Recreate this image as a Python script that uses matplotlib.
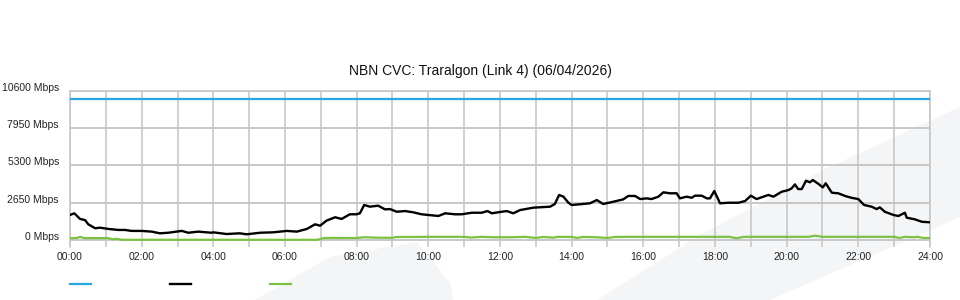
import numpy as np
import matplotlib
matplotlib.use('Agg')
import matplotlib.pyplot as plt
from matplotlib.patches import Polygon

plt.rcParams['font.family'] = ['Liberation Sans', 'DejaVu Sans']

title = 'NBN CVC: Traralgon (Link 4) (06/04/2026)'

# capacity (blue), hours of day
cap_hours = [0, 24]
cap_mbps = [10000, 10000]

# traffic in (black) - hours, Mbps
in_hours = [0.00, 0.12, 0.28, 0.42, 0.51, 0.70, 0.84, 1.07, 1.35, 1.53, 1.72, 2.00,
            2.28, 2.51, 2.74, 3.12, 3.30, 3.58, 3.95, 4.00, 4.37, 4.74, 4.93, 5.30,
            5.67, 6.05, 6.33, 6.61, 6.84, 6.98, 7.16, 7.40, 7.58, 7.81, 8.00, 8.09,
            8.21, 8.37, 8.60, 8.79, 8.93, 9.12, 9.35, 9.58, 9.81, 10.28, 10.47, 10.74,
            10.93, 11.21, 11.49, 11.65, 11.77, 12.05, 12.19, 12.37, 12.56, 12.93, 13.40, 13.53,
            13.65, 13.77, 13.91, 14.00, 14.23, 14.51, 14.70, 14.88, 15.16, 15.44, 15.58, 15.77,
            15.91, 16.09, 16.23, 16.42, 16.56, 16.74, 16.93, 17.02, 17.21, 17.35, 17.44, 17.63,
            17.77, 17.86, 17.98, 18.14, 18.37, 18.65, 18.84, 19.00, 19.16, 19.35, 19.49, 19.63,
            19.86, 20.05, 20.14, 20.23, 20.32, 20.42, 20.54, 20.65, 20.73, 20.89, 21.01, 21.09,
            21.26, 21.44, 21.63, 21.81, 22.00, 22.16, 22.37, 22.51, 22.60, 22.74, 22.98, 23.12,
            23.30, 23.35, 23.58, 23.77, 24.00]
in_mbps = [1780, 1900, 1500, 1420, 1120, 840, 880, 790, 720, 720, 650, 650,
           600, 480, 520, 650, 520, 600, 520, 550, 430, 480, 410, 520,
           550, 650, 600, 790, 1120, 1020, 1380, 1620, 1500, 1830, 1830, 1900,
           2490, 2370, 2440, 2180, 2200, 2010, 2060, 1970, 1830, 1710, 1900, 1830,
           1830, 1940, 1940, 2060, 1900, 2010, 2060, 1900, 2130, 2300, 2370, 2560,
           3200, 3080, 2650, 2490, 2540, 2610, 2840, 2560, 2720, 2890, 3130, 3130,
           2910, 2960, 2910, 3080, 3390, 3320, 3320, 2960, 3080, 3000, 3150, 3150,
           2960, 2960, 3480, 2610, 2650, 2650, 2770, 3150, 2910, 3080, 3200, 3080,
           3430, 3550, 3670, 3950, 3620, 3620, 4210, 4100, 4260, 3980, 3740, 4030,
           3360, 3320, 3130, 3000, 2910, 2490, 2370, 2200, 2320, 2010, 1780, 1710,
           1940, 1590, 1470, 1300, 1260]

# traffic out (green) - hours, Mbps
out_hours = [0.0, 0.2, 0.28, 0.4, 1.05, 1.2, 1.3, 1.45, 6.9, 7.1, 8.0, 8.2,
             8.6, 9.0, 9.1, 9.6, 10.0, 11.0, 11.2, 11.5, 11.8, 12.3, 12.7, 13.0,
             13.2, 13.5, 13.6, 14.0, 14.15, 14.3, 14.7, 15.0, 15.2, 15.6, 18.4, 18.6,
             18.8, 20.6, 20.8, 21.0, 23.0, 23.15, 23.3, 23.55, 23.65, 23.8, 24.0]
out_mbps = [130, 150, 230, 140, 140, 60, 90, 20, 20, 150, 150, 200,
            170, 160, 220, 220, 230, 230, 180, 230, 200, 200, 230, 150,
            220, 170, 230, 220, 150, 220, 200, 150, 220, 230, 230, 130,
            230, 230, 310, 230, 230, 150, 230, 200, 230, 160, 140]

y_ticks = [0, 2650, 5300, 7950, 10600]
x_ticks = list(range(0, 25, 2))

fig = plt.figure(figsize=(9.6, 3.0), dpi=100)

# faint background watermark shapes (drawn behind the axes)
bg = '#f4f5f7'
shapes = [
    [(255, 300), (330, 257), (417, 242), (450, 283), (453, 300)],
    [(597, 300), (700, 235), (823, 170), (960, 107), (960, 217), (770, 300)],
]
for pts in shapes:
    fig.patches.append(Polygon([(x / 960, 1 - y / 300) for x, y in pts],
                               closed=True, transform=fig.transFigure,
                               facecolor=bg, edgecolor='none', zorder=-10))

ax = fig.add_axes([70 / 960, 53.3 / 300, 860 / 960, (246.7 - 90.7) / 300])
ax.set_zorder(5)
ax.patch.set_alpha(0)

l1, = ax.plot(cap_hours, cap_mbps, color='#27a6e0', lw=1.6, zorder=3)
l2, = ax.plot(in_hours, in_mbps, color='#000000', lw=1.7, zorder=4)
l3, = ax.plot(out_hours, out_mbps, color='#7cc142', lw=1.6, zorder=3)

ax.set_xlim(0, 24)
ax.set_ylim(-470, 10600)
ax.set_xticks(x_ticks)
ax.set_xticklabels(['%02d:00' % h for h in x_ticks])
ax.set_xticks(range(0, 25), minor=True)
ax.set_yticks(y_ticks)
ax.set_yticklabels(['%d Mbps' % v for v in y_ticks], va='baseline')

ax.grid(True, which='both', axis='x', color='#c4c4c4', lw=1.1, zorder=1)
ax.grid(True, axis='y', color='#c4c4c4', lw=1.3, zorder=1)
ax.tick_params(which='both', length=0, labelsize=7.5, colors='#222222')
ax.tick_params(axis='y', pad=8)
ax.tick_params(axis='x', pad=4)
for side in ['left', 'right', 'top']:
    ax.spines[side].set_color('#c4c4c4')
    ax.spines[side].set_linewidth(1.1)
ax.spines['bottom'].set_visible(False)

fig.text(0.5, 1 - 71 / 300, title, ha='center', va='center',
         fontsize=10, color='#111111')

fig.legend([l1, l2, l3], ['', '', ''], loc='center left',
           bbox_to_anchor=(70 / 960, 15 / 300), ncol=3, frameon=False,
           fontsize=7.5, handlelength=2.0, handletextpad=0,
           columnspacing=7.6, borderpad=0, borderaxespad=0)

fig.savefig('out.png', dpi=100)
